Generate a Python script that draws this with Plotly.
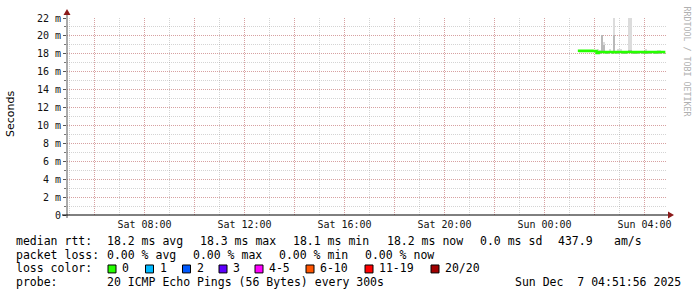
import plotly.graph_objects as go
import pandas as pd

# ---------------- data ----------------
slot_start = pd.date_range("2025-12-07 01:20:00", periods=42, freq="5min")

median_ms = [18.33, 18.32, 18.33, 18.32, 18.33, 18.32, 18.33, 18.32, 18.31,
             18.10, 18.19, 18.20, 18.19, 18.18, 18.19, 18.20, 18.19, 18.18,
             18.19, 18.19, 18.20, 18.19, 18.18, 18.19, 18.19, 18.20, 18.19,
             18.18, 18.19, 18.19, 18.20, 18.19, 18.18, 18.19, 18.19, 18.20,
             18.19, 18.18, 18.19, 18.19, 18.20, 18.19]

smoke_lo = [m - 0.10 for m in median_ms]
smoke_hi = [18.42, 18.42, 18.42, 18.42, 18.42, 18.42, 18.42, 18.42, 18.42,
            18.55, 18.40, 20.10, 19.30, 18.30, 18.30, 18.50, 18.30, 24.00,
            18.30, 18.50, 18.50, 18.30, 18.30, 18.30, 24.00, 24.00, 18.30,
            18.30, 18.30, 18.30, 18.30, 18.30, 18.50, 18.30, 18.30, 18.30,
            18.30, 18.30, 18.45, 18.45, 18.30, 18.30]
smoke_core_hi = [18.38, 18.38, 18.38, 18.38, 18.38, 18.38, 18.38, 18.38, 18.38,
                 18.30, 18.28, 20.10, 19.00, 18.26, 18.26, 18.30, 18.26, 20.10,
                 18.26, 18.30, 18.30, 18.26, 18.26, 18.26, 18.40, 18.40, 18.26,
                 18.26, 18.26, 18.26, 18.26, 18.26, 18.30, 18.26, 18.26, 18.26,
                 18.26, 18.26, 18.30, 18.30, 18.26, 18.26]

x_range = ["2025-12-06 04:54:00", "2025-12-07 04:54:00"]
x_grid = pd.date_range("2025-12-06 06:00:00", "2025-12-07 04:00:00", freq="2h")
x_labels = ["", "Sat 08:00", "", "Sat 12:00", "", "Sat 16:00", "", "Sat 20:00",
            "", "Sun 00:00", "", "Sun 04:00"]
y_ticks = list(range(0, 23, 2))
y_labels = ["0"] + [f"{v} m" for v in y_ticks[1:]]

stats_rtt = ["median rtt:", "18.2 ms avg", "18.3 ms max", "18.1 ms min",
             "18.2 ms now", "0.0 ms sd", "437.9", "am/s"]
stats_loss = ["packet loss:", "0.00 % avg", "0.00 % max", "0.00 % min", "0.00 % now"]
loss_labels = ["0", "1", "2", "3", "4-5", "6-10", "11-19", "20/20"]
loss_colors = ["#26ff00", "#00b8ff", "#0059ff", "#5e00ff", "#ff00ff",
               "#ff5500", "#ff0000", "#a10000"]
probe_text = ["probe:", "20 ICMP Echo Pings (56 Bytes) every 300s"]
stamp_text = "Sun Dec  7 04:51:56 2025"

# ---------------- layout geometry ----------------
W, H = 697, 297
L, R, T, B = 67, 30, 16, 82
PW, PH = W - L - R, H - T - B
MONO = "DejaVu Sans Mono"


def px(x):
    return (x - L) / PW


def py(y):
    return (T + PH - y) / PH


def nb(s):
    return s.replace(" ", "\u00a0")


fig = go.Figure()

# smoke (outer + core)
fig.add_trace(go.Bar(
    x=slot_start, y=[h - l for h, l in zip(smoke_hi, smoke_lo)], base=smoke_lo,
    width=300000, offset=0, marker=dict(color="#dcdcdc", line=dict(width=0)),
    hoverinfo="skip", showlegend=False))
fig.add_trace(go.Bar(
    x=slot_start, y=[h - l for h, l in zip(smoke_core_hi, smoke_lo)], base=smoke_lo,
    width=300000, offset=0, marker=dict(color="#b9b9b9", line=dict(width=0)),
    hoverinfo="skip", showlegend=False))

# median line, step-wise
line_x = list(slot_start) + [slot_start[-1] + pd.Timedelta(minutes=5)]
line_y = median_ms + [median_ms[-1]]
fig.add_trace(go.Scatter(
    x=line_x, y=line_y, mode="lines", line=dict(color=loss_colors[0], width=2.5, shape="hv"),
    hoverinfo="skip", showlegend=False))

grid_major = "rgba(222,80,80,0.38)"
grid_minor = "rgba(143,143,143,0.38)"

fig.update_layout(
    width=W, height=H, margin=dict(l=L, r=R, t=T, b=B, pad=0),
    paper_bgcolor="white", plot_bgcolor="white", barmode="overlay", bargap=0,
    showlegend=False,
    xaxis=dict(type="date", range=x_range, tickmode="array", tickvals=list(x_grid),
               ticktext=x_labels, showgrid=True, gridcolor=grid_major, griddash="1px,1px",
               gridwidth=1, zeroline=False, showline=False, ticks="",
               ticklabelstandoff=2,
               tickfont=dict(family=MONO, size=10, color="#111"),
               minor=dict(dtick=3600000, tick0="2025-12-06 05:00:00", showgrid=True,
                          gridcolor=grid_minor, griddash="1px,1px", gridwidth=1)),
    yaxis=dict(range=[0, 22], tickmode="array", tickvals=y_ticks, ticktext=y_labels,
               showgrid=True, gridcolor=grid_major, griddash="1px,1px", gridwidth=1,
               zeroline=False, showline=False, ticks="outside", ticklen=3,
               tickcolor="#555", tickfont=dict(family=MONO, size=10, color="#111"),
               minor=dict(dtick=1, showgrid=True, gridcolor=grid_minor,
                          griddash="1px,1px", gridwidth=1, ticks="outside",
                          ticklen=2, tickcolor="#777")),
)

shapes = []
# axes with arrows
shapes.append(dict(type="line", xref="paper", yref="paper", x0=px(67), x1=px(67),
                   y0=py(218), y1=py(10), line=dict(color="#555", width=1)))
shapes.append(dict(type="line", xref="paper", yref="paper", x0=px(62), x1=px(670),
                   y0=py(215), y1=py(215), line=dict(color="#000", width=1)))
shapes.append(dict(type="path", xref="paper", yref="paper",
                   path=f"M {px(63.5)},{py(13)} L {px(70.5)},{py(13)} L {px(67)},{py(7)} Z",
                   fillcolor="#8b1a1a", line=dict(width=0)))
shapes.append(dict(type="path", xref="paper", yref="paper",
                   path=f"M {px(668)},{py(211.5)} L {px(668)},{py(218.5)} L {px(674)},{py(215)} Z",
                   fillcolor="#8b1a1a", line=dict(width=0)))

ann = []


def text(x, y, s, anchor="left", size=11.5, color="#000"):
    ann.append(dict(x=px(x), y=py(y), xref="paper", yref="paper", text=nb(s),
                    showarrow=False, xanchor=anchor, yanchor="middle",
                    font=dict(family=MONO, size=size, color=color),
                    borderpad=0, borderwidth=0))


rtt_x = [16, 107, 200, 293, 387, 480, 558, 614]
for x, s in zip(rtt_x, stats_rtt):
    text(x, 241, s)
loss_x = [16, 107, 193, 279, 365]
for x, s in zip(loss_x, stats_loss):
    text(x, 255, s)
text(16, 269, "loss color:")
sq_x = [108, 145.5, 182.5, 219, 255, 306, 365, 431]
for x, s, c in zip(sq_x, loss_labels, loss_colors):
    shapes.append(dict(type="rect", xref="paper", yref="paper", x0=px(x), x1=px(x + 8),
                       y0=py(273.5), y1=py(265.5), fillcolor=c,
                       line=dict(color="#000", width=1)))
    text(x + 14, 269, s)
text(16, 283, probe_text[0])
text(107, 283, probe_text[1])
text(681, 283, stamp_text, anchor="right")

# y title
ann.append(dict(x=px(10), y=py(113), xref="paper", yref="paper", text="Seconds",
                showarrow=False, textangle=-90, xanchor="center", yanchor="middle",
                font=dict(family="DejaVu Sans", size=11, color="#000")))
# watermark
ann.append(dict(x=px(687), y=py(60), xref="paper", yref="paper",
                text=nb("RRDTOOL / TOBI OETIKER"), showarrow=False, textangle=90,
                xanchor="center", yanchor="middle",
                font=dict(family=MONO, size=8.3, color="#b0b0b0")))

fig.update_layout(shapes=shapes, annotations=ann)
fig.write_html("out.html")
